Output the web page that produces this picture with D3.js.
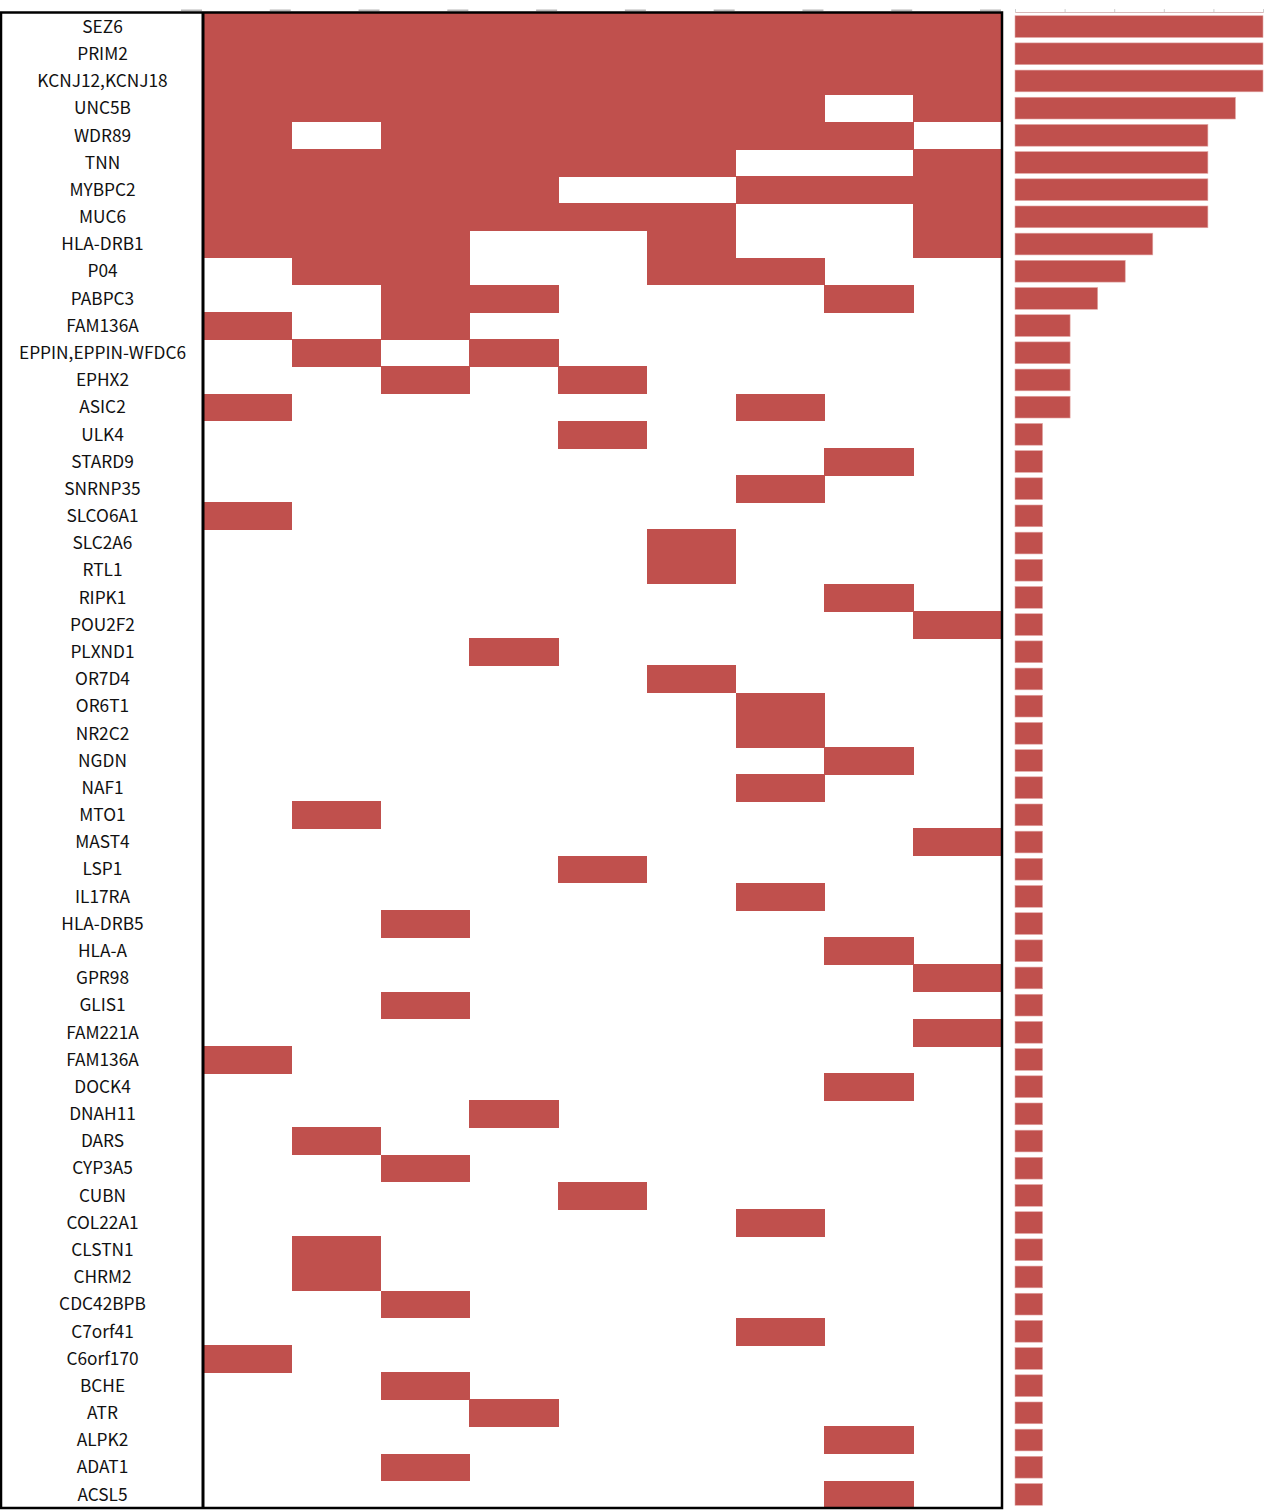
<!DOCTYPE html>
<html>
<head>
<meta charset="utf-8">
<script src="https://cdn.jsdelivr.net/npm/d3@7"></script>
<style>
  body { margin: 0; background: #fff; }
  svg { display: block; }
</style>
</head>
<body>
<script>
let width = 1270,
  height = 1511,
  gridTop = 13,
  gridBottom = 1508,
  labelLeft = 0,
  gridLeft = 203,
  gridRight = 1002,
  barLeft = 1015,
  barRight = 1263,
  red = "#C0504D";

// genes, top to bottom
let genes = ["SEZ6", "PRIM2", "KCNJ12,KCNJ18", "UNC5B", "WDR89", "TNN", "MYBPC2", "MUC6",
  "HLA-DRB1", "P04", "PABPC3", "FAM136A", "EPPIN,EPPIN-WFDC6", "EPHX2", "ASIC2", "ULK4",
  "STARD9", "SNRNP35", "SLCO6A1", "SLC2A6", "RTL1", "RIPK1", "POU2F2", "PLXND1", "OR7D4",
  "OR6T1", "NR2C2", "NGDN", "NAF1", "MTO1", "MAST4", "LSP1", "IL17RA", "HLA-DRB5", "HLA-A",
  "GPR98", "GLIS1", "FAM221A", "FAM136A", "DOCK4", "DNAH11", "DARS", "CYP3A5", "CUBN",
  "COL22A1", "CLSTN1", "CHRM2", "CDC42BPB", "C7orf41", "C6orf170", "BCHE", "ATR", "ALPK2",
  "ADAT1", "ACSL5"];

// 9 samples (columns)
let samples = [1, 2, 3, 4, 5, 6, 7, 8, 9];

// samples carrying a mutation, one list per gene
let hits = [
  [1, 2, 3, 4, 5, 6, 7, 8, 9],
  [1, 2, 3, 4, 5, 6, 7, 8, 9],
  [1, 2, 3, 4, 5, 6, 7, 8, 9],
  [1, 2, 3, 4, 5, 6, 7, 9],
  [1, 3, 4, 5, 6, 7, 8],
  [1, 2, 3, 4, 5, 6, 9],
  [1, 2, 3, 4, 7, 8, 9],
  [1, 2, 3, 4, 5, 6, 9],
  [1, 2, 3, 6, 9],
  [2, 3, 6, 7],
  [3, 4, 8],
  [1, 3],
  [2, 4],
  [3, 5],
  [1, 7],
  [5], [8], [7], [1], [6], [6], [8], [9], [4], [6], [7], [7], [8], [7], [2],
  [9], [5], [7], [3], [8], [9], [3], [9], [1], [8], [4], [2], [3], [5], [7],
  [2], [2], [3], [7], [1], [3], [4], [8], [3], [8]
];

// ticks on the count axis (no labels in the original)
let countTicks = [0, 1.8, 3.6, 5.4, 7.2, 9];

let cells = [];
hits.forEach((h, i) => h.forEach(s => cells.push({ row: i, sample: s })));

let svg = d3.select("body").append("svg")
  .attr("width", width)
  .attr("height", height);

let y = d3.scaleBand()
  .domain(d3.range(genes.length))
  .range([gridTop, gridBottom]);

let x = d3.scaleBand()
  .domain(samples)
  .range([gridLeft, gridRight]);

let xCount = d3.scaleLinear()
  .domain([0, 9])
  .range([barLeft, barRight]);

let yBar = d3.scaleBand()
  .domain(d3.range(genes.length))
  .range([gridTop, gridBottom])
  .paddingInner(0.2)
  .paddingOuter(0.1);

// heatmap cells
svg.append("g")
  .attr("shape-rendering", "crispEdges")
  .selectAll("rect")
  .data(cells)
  .enter()
  .append("rect")
  .attr("x", d => x(d.sample))
  .attr("y", d => y(d.row))
  .attr("width", x.bandwidth() + 0.6)
  .attr("height", y.bandwidth() + 0.6)
  .attr("fill", red);

// little grey marks above the grid at column edges
let edges = [gridLeft].concat(samples.map(s => x(s) + x.bandwidth()));
svg.append("g")
  .selectAll("rect")
  .data(edges)
  .enter()
  .append("rect")
  .attr("x", d => d - 22)
  .attr("y", 9.5)
  .attr("width", 21)
  .attr("height", 1.5)
  .attr("fill", "#9a9a9a")
  .attr("opacity", 0.7);

// gene labels
svg.append("g")
  .selectAll("text")
  .data(genes)
  .enter()
  .append("text")
  .attr("x", (labelLeft + gridLeft) / 2 + 1)
  .attr("y", (d, i) => y(i) + y.bandwidth() / 2)
  .attr("dy", "0.36em")
  .attr("text-anchor", "middle")
  .style("font-family", "'Noto Sans CJK KR', 'Noto Sans', sans-serif")
  .style("font-size", "17.3px")
  .style("fill", "#111")
  .text(d => d);

// borders
let borders = svg.append("g").attr("fill", "none").attr("stroke", "#000");
borders.append("rect")
  .attr("x", 1).attr("y", gridTop - 0.5)
  .attr("width", gridRight - 1).attr("height", gridBottom - gridTop + 0.5)
  .attr("stroke-width", 2.5);
borders.append("line")
  .attr("x1", gridLeft).attr("x2", gridLeft)
  .attr("y1", gridTop).attr("y2", gridBottom)
  .attr("stroke-width", 3);

// count axis on top of the bars
let axis = svg.append("g")
  .attr("transform", "translate(0," + (gridTop - 1) + ")")
  .call(d3.axisTop(xCount).tickValues(countTicks).tickSize(3).tickFormat(""));
axis.select(".domain").attr("stroke", "#d8b8b8");
axis.selectAll(".tick line").attr("stroke", "#cfcfcf");

// bar chart of counts
svg.append("g")
  .selectAll("rect")
  .data(hits)
  .enter()
  .append("rect")
  .attr("x", xCount(0))
  .attr("y", (d, i) => yBar(i))
  .attr("width", d => xCount(d.length) - xCount(0))
  .attr("height", yBar.bandwidth())
  .attr("fill", red)
  .attr("stroke", "#e2a7a5")
  .attr("stroke-width", 0.6);
</script>
</body>
</html>
